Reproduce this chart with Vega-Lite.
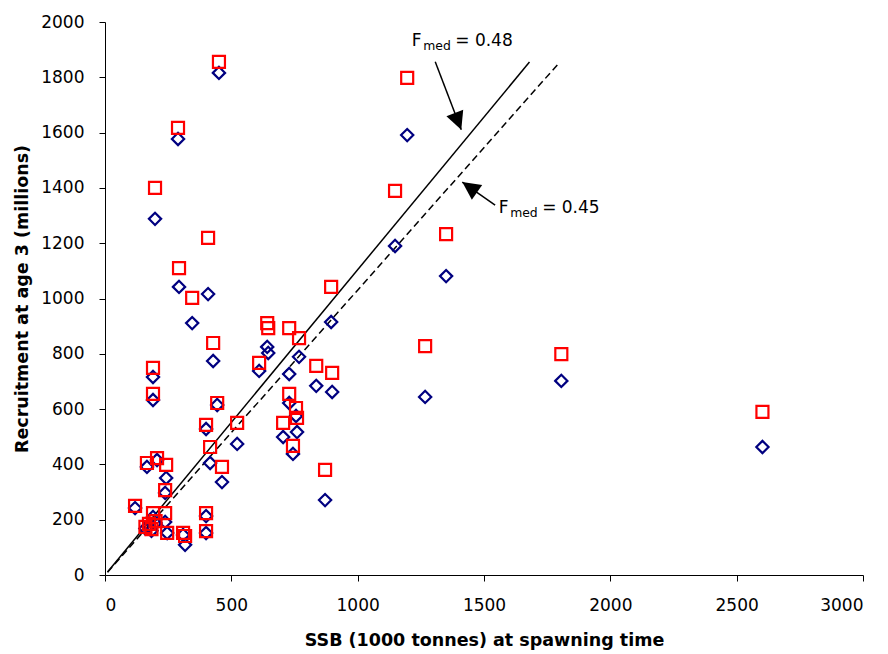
{
  "$schema": "https://vega.github.io/schema/vega-lite/v6.json",
  "width": 758,
  "height": 553,
  "autosize": "none",
  "padding": {"left": 105, "top": 22, "right": 25, "bottom": 79},
  "background": "white",
  "config": {
    "view": {"stroke": null},
    "axis": {
      "grid": false,
      "domainColor": "black",
      "tickColor": "black",
      "labelColor": "black",
      "titleColor": "black",
      "labelFont": "DejaVu Sans",
      "labelFontSize": 17,
      "titleFont": "DejaVu Sans",
      "titleFontSize": 17.5,
      "titleFontWeight": "bold",
      "tickSize": 6,
      "domainWidth": 1,
      "tickWidth": 1,
      "format": "d"
    }
  },
  "datasets": {
    "stock": [
      {"ssb": 451, "rec": 1816, "series": "A"}, {"ssb": 451, "rec": 1856, "series": "B"},
      {"ssb": 289, "rec": 1577, "series": "A"}, {"ssb": 289, "rec": 1617, "series": "B"},
      {"ssb": 198, "rec": 1288, "series": "A"}, {"ssb": 198, "rec": 1400, "series": "B"},
      {"ssb": 408, "rec": 1016, "series": "A"}, {"ssb": 408, "rec": 1219, "series": "B"},
      {"ssb": 293, "rec": 1042, "series": "A"}, {"ssb": 293, "rec": 1110, "series": "B"},
      {"ssb": 345, "rec": 911, "series": "A"}, {"ssb": 345, "rec": 1002, "series": "B"},
      {"ssb": 428, "rec": 774, "series": "A"}, {"ssb": 428, "rec": 839, "series": "B"},
      {"ssb": 1196, "rec": 1591, "series": "A"}, {"ssb": 1196, "rec": 1798, "series": "B"},
      {"ssb": 1148, "rec": 1190, "series": "A"}, {"ssb": 1148, "rec": 1389, "series": "B"},
      {"ssb": 1350, "rec": 1081, "series": "A"}, {"ssb": 1350, "rec": 1233, "series": "B"},
      {"ssb": 895, "rec": 915, "series": "A"}, {"ssb": 895, "rec": 1042, "series": "B"},
      {"ssb": 642, "rec": 825, "series": "A"}, {"ssb": 642, "rec": 911, "series": "B"},
      {"ssb": 646, "rec": 803, "series": "A"}, {"ssb": 646, "rec": 893, "series": "B"},
      {"ssb": 610, "rec": 738, "series": "A"}, {"ssb": 610, "rec": 767, "series": "B"},
      {"ssb": 729, "rec": 727, "series": "A"}, {"ssb": 729, "rec": 893, "series": "B"},
      {"ssb": 768, "rec": 789, "series": "A"}, {"ssb": 768, "rec": 857, "series": "B"},
      {"ssb": 836, "rec": 684, "series": "A"}, {"ssb": 836, "rec": 756, "series": "B"},
      {"ssb": 899, "rec": 662, "series": "A"}, {"ssb": 899, "rec": 731, "series": "B"},
      {"ssb": 729, "rec": 622, "series": "A"}, {"ssb": 729, "rec": 655, "series": "B"},
      {"ssb": 705, "rec": 499, "series": "A"}, {"ssb": 705, "rec": 550, "series": "B"},
      {"ssb": 756, "rec": 575, "series": "A"}, {"ssb": 756, "rec": 604, "series": "B"},
      {"ssb": 760, "rec": 517, "series": "A"}, {"ssb": 760, "rec": 568, "series": "B"},
      {"ssb": 744, "rec": 438, "series": "A"}, {"ssb": 744, "rec": 467, "series": "B"},
      {"ssb": 871, "rec": 271, "series": "A"}, {"ssb": 871, "rec": 380, "series": "B"},
      {"ssb": 1267, "rec": 644, "series": "A"}, {"ssb": 1267, "rec": 828, "series": "B"},
      {"ssb": 1806, "rec": 702, "series": "A"}, {"ssb": 1806, "rec": 799, "series": "B"},
      {"ssb": 2602, "rec": 463, "series": "A"}, {"ssb": 2602, "rec": 590, "series": "B"},
      {"ssb": 190, "rec": 716, "series": "A"}, {"ssb": 190, "rec": 749, "series": "B"},
      {"ssb": 190, "rec": 633, "series": "A"}, {"ssb": 190, "rec": 655, "series": "B"},
      {"ssb": 444, "rec": 615, "series": "A"}, {"ssb": 444, "rec": 622, "series": "B"},
      {"ssb": 400, "rec": 528, "series": "A"}, {"ssb": 400, "rec": 543, "series": "B"},
      {"ssb": 523, "rec": 474, "series": "A"}, {"ssb": 523, "rec": 550, "series": "B"},
      {"ssb": 416, "rec": 405, "series": "A"}, {"ssb": 416, "rec": 463, "series": "B"},
      {"ssb": 463, "rec": 336, "series": "A"}, {"ssb": 463, "rec": 391, "series": "B"},
      {"ssb": 166, "rec": 391, "series": "A"}, {"ssb": 166, "rec": 405, "series": "B"},
      {"ssb": 206, "rec": 416, "series": "A"}, {"ssb": 206, "rec": 423, "series": "B"},
      {"ssb": 242, "rec": 351, "series": "A"}, {"ssb": 242, "rec": 398, "series": "B"},
      {"ssb": 238, "rec": 297, "series": "A"}, {"ssb": 238, "rec": 307, "series": "B"},
      {"ssb": 119, "rec": 242, "series": "A"}, {"ssb": 119, "rec": 250, "series": "B"},
      {"ssb": 190, "rec": 210, "series": "A"}, {"ssb": 190, "rec": 224, "series": "B"},
      {"ssb": 238, "rec": 192, "series": "A"}, {"ssb": 238, "rec": 224, "series": "B"},
      {"ssb": 246, "rec": 152, "series": "A"}, {"ssb": 246, "rec": 152, "series": "B"},
      {"ssb": 309, "rec": 145, "series": "A"}, {"ssb": 309, "rec": 152, "series": "B"},
      {"ssb": 317, "rec": 109, "series": "A"}, {"ssb": 317, "rec": 141, "series": "B"},
      {"ssb": 400, "rec": 213, "series": "A"}, {"ssb": 400, "rec": 224, "series": "B"},
      {"ssb": 400, "rec": 152, "series": "A"}, {"ssb": 400, "rec": 159, "series": "B"},
      {"ssb": 160, "rec": 168, "series": "A"}, {"ssb": 160, "rec": 174, "series": "B"},
      {"ssb": 174, "rec": 178, "series": "A"}, {"ssb": 174, "rec": 185, "series": "B"},
      {"ssb": 184, "rec": 160, "series": "A"}, {"ssb": 184, "rec": 166, "series": "B"},
      {"ssb": 200, "rec": 188, "series": "A"}, {"ssb": 200, "rec": 195, "series": "B"}
    ],
    "fmed": [
      {"ssb": 10, "rec": 11, "line": "0.48"}, {"ssb": 1680, "rec": 1855, "line": "0.48"},
      {"ssb": 10, "rec": 10, "line": "0.45"}, {"ssb": 1800, "rec": 1855, "line": "0.45"}
    ],
    "arrows": [
      {"x": 1307, "y": 1856, "x2": 1410, "y2": 1610, "line": "0.48"},
      {"x": 1544, "y": 1338, "x2": 1414, "y2": 1421, "line": "0.45"}
    ],
    "labels": [
      {"x": 1214, "y": 1912, "f": "F", "sub": "med", "rest": "= 0.48"},
      {"x": 1558, "y": 1309, "f": "F", "sub": "med", "rest": "= 0.45"}
    ]
  },
  "layer": [
    {
      "data": {"name": "fmed"},
      "transform": [{"filter": "datum.line == '0.48'"}],
      "mark": {"type": "line", "color": "black", "strokeWidth": 1.5},
      "encoding": {
        "x": {"field": "ssb", "type": "quantitative", "scale": {"domain": [0, 3000], "nice": false},
              "axis": {"values": [0, 500, 1000, 1500, 2000, 2500, 3000], "labelPadding": 16, "titlePadding": 18, "title": "SSB (1000 tonnes) at spawning time"}},
        "y": {"field": "rec", "type": "quantitative", "scale": {"domain": [0, 2000], "nice": false},
              "axis": {"values": [0, 200, 400, 600, 800, 1000, 1200, 1400, 1600, 1800, 2000], "labelPadding": 15, "titlePadding": 9, "title": "Recruitment at age 3 (millions)"}}
      }
    },
    {
      "data": {"name": "fmed"},
      "transform": [{"filter": "datum.line == '0.45'"}],
      "mark": {"type": "line", "color": "black", "strokeWidth": 1.5, "strokeDash": [7, 4]},
      "encoding": {
        "x": {"field": "ssb", "type": "quantitative"},
        "y": {"field": "rec", "type": "quantitative"}
      }
    },
    {
      "data": {"name": "stock"},
      "transform": [{"filter": "datum.series == 'A'"}],
      "mark": {"type": "point", "shape": "diamond", "filled": false, "color": "#000080", "strokeWidth": 2.2, "size": 150, "opacity": 1},
      "encoding": {
        "x": {"field": "ssb", "type": "quantitative"},
        "y": {"field": "rec", "type": "quantitative"}
      }
    },
    {
      "data": {"name": "stock"},
      "transform": [{"filter": "datum.series == 'B'"}],
      "mark": {"type": "point", "shape": "square", "filled": false, "color": "#FF0000", "strokeWidth": 2.2, "size": 144, "opacity": 1},
      "encoding": {
        "x": {"field": "ssb", "type": "quantitative"},
        "y": {"field": "rec", "type": "quantitative"}
      }
    },
    {
      "data": {"name": "arrows"},
      "mark": {"type": "rule", "color": "black", "strokeWidth": 1.5},
      "encoding": {
        "x": {"field": "x", "type": "quantitative"},
        "y": {"field": "y", "type": "quantitative"},
        "x2": {"field": "x2"},
        "y2": {"field": "y2"}
      }
    },
    {
      "data": {"name": "arrows"},
      "transform": [{"filter": "datum.line == '0.48'"}],
      "mark": {"type": "point", "shape": "M0,0L0.9,1.8L-0.9,1.8Z", "filled": true, "color": "black", "opacity": 1, "size": 400, "angle": 159, "strokeWidth": 0},
      "encoding": {
        "x": {"field": "x2", "type": "quantitative"},
        "y": {"field": "y2", "type": "quantitative"}
      }
    },
    {
      "data": {"name": "arrows"},
      "transform": [{"filter": "datum.line == '0.45'"}],
      "mark": {"type": "point", "shape": "M0,0L0.9,1.8L-0.9,1.8Z", "filled": true, "color": "black", "opacity": 1, "size": 400, "angle": 305, "strokeWidth": 0},
      "encoding": {
        "x": {"field": "x2", "type": "quantitative"},
        "y": {"field": "y2", "type": "quantitative"}
      }
    },
    {
      "data": {"name": "labels"},
      "mark": {"type": "text", "align": "left", "baseline": "alphabetic", "font": "DejaVu Sans", "fontSize": 17, "color": "black"},
      "encoding": {
        "x": {"field": "x", "type": "quantitative"},
        "y": {"field": "y", "type": "quantitative"},
        "text": {"field": "f"}
      }
    },
    {
      "data": {"name": "labels"},
      "mark": {"type": "text", "align": "left", "baseline": "alphabetic", "font": "DejaVu Sans", "fontSize": 12.4, "color": "black", "dx": 11.5, "dy": 3.5},
      "encoding": {
        "x": {"field": "x", "type": "quantitative"},
        "y": {"field": "y", "type": "quantitative"},
        "text": {"field": "sub"}
      }
    },
    {
      "data": {"name": "labels"},
      "mark": {"type": "text", "align": "left", "baseline": "alphabetic", "font": "DejaVu Sans", "fontSize": 17, "color": "black", "dx": 43.5},
      "encoding": {
        "x": {"field": "x", "type": "quantitative"},
        "y": {"field": "y", "type": "quantitative"},
        "text": {"field": "rest"}
      }
    }
  ]
}
